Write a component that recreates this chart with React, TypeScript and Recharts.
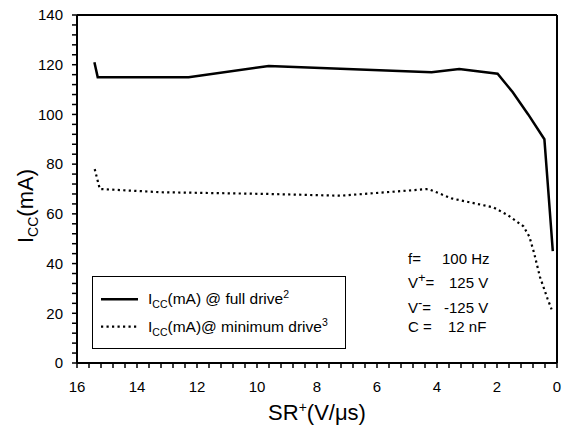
import React from 'react';
import { ComposedChart, Line, XAxis, YAxis, ReferenceLine, Legend, Label } from 'recharts';

// Full drive (solid) series: SR+ (V/us) vs Icc (mA)
const fullDriveSR = [15.42, 15.31, 12.28, 9.61, 4.18, 3.26, 1.98, 1.48, 0.96, 0.42, 0.27, 0.14];
const fullDriveIcc = [121, 115, 115, 119.5, 117, 118.3, 116.4, 109, 100, 90, 66, 45];

// Minimum drive (dotted) series
const minDriveSR = [15.41, 15.24, 13.2, 9.6, 7.23, 4.29, 3.51, 2.12, 1.64, 1.12, 0.92, 0.76, 0.57, 0.32, 0.18];
const minDriveIcc = [78, 70, 68.7, 68, 67.3, 70, 66.2, 62.6, 59.5, 55, 50.8, 44.1, 34.7, 26, 21.6];

// Tick labels
const xMajorTicks = [16, 14, 12, 10, 8, 6, 4, 2, 0];
const yMajorTicks = [0, 20, 40, 60, 80, 100, 120, 140];

const xMinorStep = 0.4;
const yMinorStep = 4;

const xTicks: number[] = [];
for (let i = 0; i <= Math.round(16 / xMinorStep); i++) xTicks.push(Math.round(i * xMinorStep * 10) / 10);
const yTicks: number[] = [];
for (let i = 0; i <= Math.round(140 / yMinorStep); i++) yTicks.push(i * yMinorStep);

const fullDriveData = fullDriveSR.map((x, i) => ({ x, y: fullDriveIcc[i] }));
const minDriveData = minDriveSR.map((x, i) => ({ x, y: minDriveIcc[i] }));

const FONT = '"Liberation Sans", Arial, sans-serif';
const DOT_DASH = '2.2 3.3';

const isMajor = (v: number, list: number[]) => list.some((m) => Math.abs(m - v) < 1e-6);

const XTick = (props: any) => {
  const { x, y, payload } = props;
  if (!isMajor(payload.value, xMajorTicks)) return <g />;
  return (
    <text x={x} y={y} dy={10.5} textAnchor="middle" fontSize={15} fontFamily={FONT} fill="#000">
      {payload.value}
    </text>
  );
};

const YTick = (props: any) => {
  const { x, y, payload } = props;
  if (!isMajor(payload.value, yMajorTicks)) return <g />;
  return (
    <text x={x} y={y} dy={5.3} textAnchor="end" fontSize={15} fontFamily={FONT} fill="#000">
      {payload.value}
    </text>
  );
};

const XTitle = (props: any) => {
  const vb = props.viewBox || { x: 77, y: 363, width: 480 };
  const cx = vb.x + vb.width / 2;
  return (
    <text x={cx} y={420} textAnchor="middle" fontSize={22} fontFamily={FONT} fill="#000">
      SR
      <tspan fontSize={14} dy={-8}>+</tspan>
      <tspan dy={8}>(V/μs)</tspan>
    </text>
  );
};

const YTitle = (props: any) => {
  const vb = props.viewBox || { x: 17, y: 15, height: 348 };
  const cy = vb.y + vb.height / 2 + 17;
  const cx = 33;
  return (
    <text
      x={cx}
      y={cy}
      transform={`rotate(-90, ${cx}, ${cy})`}
      textAnchor="middle"
      fontSize={22}
      fontFamily={FONT}
      fill="#000"
    >
      I
      <tspan fontSize={14} dy={5}>CC</tspan>
      <tspan dy={-5}>(mA)</tspan>
    </text>
  );
};

const renderLegend = () => (
  <svg width={254} height={73} style={{ display: 'block' }}>
    <rect x={0.5} y={0.5} width={253} height={72} fill="#fff" stroke="#000" strokeWidth={1} />
    <line x1={9} x2={46} y1={23.3} y2={23.3} stroke="#000" strokeWidth={2.5} />
    <text x={56} y={27.5} fontSize={15.5} fontFamily={FONT} fill="#000">
      I
      <tspan fontSize={10.5} dy={4}>CC</tspan>
      <tspan dy={-4}>(mA) @ full drive</tspan>
      <tspan fontSize={10.5} dy={-6}>2</tspan>
    </text>
    <line x1={9} x2={46} y1={50.7} y2={50.7} stroke="#000" strokeWidth={2.2} strokeDasharray={DOT_DASH} />
    <text x={56} y={55.7} fontSize={15.5} fontFamily={FONT} fill="#000">
      I
      <tspan fontSize={10.5} dy={4}>CC</tspan>
      <tspan dy={-4}>(mA)@ minimum drive</tspan>
      <tspan fontSize={10.5} dy={-6}>3</tspan>
    </text>
  </svg>
);

export default function App() {
  return (
    <div style={{ position: 'absolute', left: 0, top: 0, width: 565, height: 427, background: '#fff' }}>
      <ComposedChart width={565} height={427} margin={{ top: 15, right: 8, bottom: 24, left: 17 }}>
        <XAxis
          type="number"
          dataKey="x"
          domain={[0, 16]}
          reversed
          ticks={xTicks}
          interval={0}
          tickSize={5}
          tickMargin={13}
          height={40}
          allowDataOverflow
          axisLine={{ stroke: '#000', strokeWidth: 2 }}
          tickLine={{ stroke: '#000', strokeWidth: 1.5 }}
          tick={<XTick />}
        >
          <Label content={<XTitle />} />
        </XAxis>
        <YAxis
          type="number"
          domain={[0, 140]}
          ticks={yTicks}
          interval={0}
          tickSize={5}
          tickMargin={9}
          width={60}
          allowDataOverflow
          axisLine={{ stroke: '#000', strokeWidth: 2 }}
          tickLine={{ stroke: '#000', strokeWidth: 1.5 }}
          tick={<YTick />}
        >
          <Label content={<YTitle />} />
        </YAxis>
        <ReferenceLine y={140} stroke="#000" strokeWidth={2} />
        <ReferenceLine x={0} stroke="#000" strokeWidth={2} />
        <Line
          data={fullDriveData}
          dataKey="y"
          type="linear"
          stroke="#000"
          strokeWidth={2.5}
          dot={false}
          activeDot={false}
          isAnimationActive={false}
          name="full"
        />
        <Line
          data={minDriveData}
          dataKey="y"
          type="linear"
          stroke="#000"
          strokeWidth={2.2}
          strokeDasharray={DOT_DASH}
          dot={false}
          activeDot={false}
          isAnimationActive={false}
          name="min"
        />
        <Legend
          layout="vertical"
          align="center"
          verticalAlign="middle"
          wrapperStyle={{ left: 92, top: 276, width: 254, height: 73 }}
          content={renderLegend}
        />
      </ComposedChart>
      <svg
        width={565}
        height={427}
        style={{ position: 'absolute', left: 0, top: 0, pointerEvents: 'none' }}
      >
        <g fontFamily={FONT} fontSize={15} fill="#000">
          <text x={408} y={264}>f=</text>
          <text x={442} y={264}>100 Hz</text>
          <text x={408} y={288}>
            V<tspan fontSize={13} dy={-6}>+</tspan>
            <tspan dy={6}>=</tspan>
          </text>
          <text x={449} y={288}>125 V</text>
          <text x={408} y={313}>
            V<tspan fontSize={13} dy={-6}>-</tspan>
            <tspan dy={6}>=</tspan>
          </text>
          <text x={444} y={313}>-125 V</text>
          <text x={408} y={332}>C =</text>
          <text x={448} y={332}>12 nF</text>
        </g>
      </svg>
    </div>
  );
}
